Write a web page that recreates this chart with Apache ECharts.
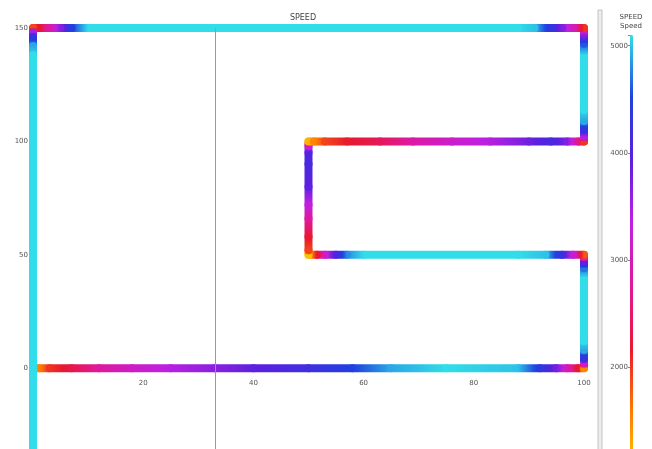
<!DOCTYPE html>
<html>
<head>
<meta charset="utf-8">
<script src="https://cdn.jsdelivr.net/npm/echarts@6/dist/echarts.min.js"></script>
<style>
  html, body { margin: 0; padding: 0; background: #fff; }
  #main { width: 652px; height: 449px; }
</style>
</head>
<body>
<div id="main"></div>
<script>
// track samples, in driving order: x, y and speed at each sample
var trackX = [
  0, 1, 3, 7, 12, 18, 25, 33, 40, 50, 58, 65, 75, 88, 92, 95, 97, 99, 100,
  100, 100, 100, 100, 100, 100, 100, 100, 100,
  98, 96, 93, 88, 60, 57, 55, 53, 51.5, 50,
  50, 50, 50, 50, 50, 50, 50, 50, 50,
  51, 53, 57, 63, 69, 76, 83, 90, 94, 97, 99, 100,
  100, 100, 100, 100, 100, 100, 100, 100,
  98, 96, 94, 91, 88, 10, 7, 5, 3, 1, 0,
  0, 0, 0, 0, 0
]
var trackY = [
  0, 0, 0, 0, 0, 0, 0, 0, 0, 0, 0, 0, 0, 0, 0, 0, 0, 0, 0,
  2, 4, 8, 12, 40, 44, 47, 49, 50,
  50, 50, 50, 50, 50, 50, 50, 50, 50, 50,
  52, 58, 66, 72, 80, 90, 95, 98, 100,
  100, 100, 100, 100, 100, 100, 100, 100, 100, 100, 100, 100,
  102, 105, 109, 114, 138, 143, 147, 150,
  150, 150, 150, 150, 150, 150, 150, 150, 150, 150, 150,
  148, 146, 142, 138, -50
]
var trackSpeed = [
  1100, 1500, 2000, 2300, 2800, 3100, 3400, 3650, 3900, 4200, 4500, 4900, 5100, 5000, 4400, 3800, 3000, 2200, 1500,
  3000, 4200, 4900, 5100, 5100, 4700, 3900, 2800, 1800,
  3200, 4200, 5000, 5100, 5100, 4800, 4100, 3200, 2200, 1100,
  1900, 2200, 2800, 3300, 3900, 4100, 4000, 3200, 1200,
  1500, 1900, 2150, 2400, 2850, 3150, 3400, 3800, 4100, 3700, 2700, 2000,
  3400, 4300, 4900, 5100, 5100, 4600, 3700, 2000,
  3000, 3700, 4300, 5000, 5100, 5100, 4500, 3700, 2900, 2200, 1900,
  3500, 4300, 4900, 5100, 5100
]

var speedMin = 1000
var speedMax = 5100
var speedColors = ['#ffd000', '#ff7a00', '#e81830', '#e0189a', '#c020e0', '#5a20e0', '#2040e0', '#30dde8']
var xTicks = { min: 0, max: 100, interval: 20 }
var yTicks = { min: -50, max: 150, interval: 50 }
var cursorX = 33

function hexRgb(h) {
  return [parseInt(h.substr(1, 2), 16), parseInt(h.substr(3, 2), 16), parseInt(h.substr(5, 2), 16)]
}
var rgbList = speedColors.map(hexRgb)

// same even spread of colours over [min, max] that visualMap uses
function colorAt(v) {
  var t = (v - speedMin) / (speedMax - speedMin)
  t = Math.max(0, Math.min(1, t)) * (rgbList.length - 1)
  var i = Math.min(Math.floor(t), rgbList.length - 2)
  var f = t - i
  var a = rgbList[i], b = rgbList[i + 1]
  return 'rgb(' + Math.round(a[0] + (b[0] - a[0]) * f) + ',' +
    Math.round(a[1] + (b[1] - a[1]) * f) + ',' +
    Math.round(a[2] + (b[2] - a[2]) * f) + ')'
}

var segments = []
for (var i = 0; i < trackX.length - 1; i++) {
  segments.push([trackX[i], trackY[i], trackSpeed[i], trackX[i + 1], trackY[i + 1], trackSpeed[i + 1]])
}

var chart = echarts.init(document.getElementById('main'))

// plot grid: y from -50 to 150 over 453.5px, x axis sits on y = 0
var plotTop = 28
var plotHeight = 453.5
var zeroOffset = -plotHeight * (0 - yTicks.min) / (yTicks.max - yTicks.min)

var option = {
  backgroundColor: '#fff',
  animation: false,
  title: {
    text: 'SPEED',
    left: 298,
    top: 9,
    textAlign: 'center',
    textStyle: { fontSize: 8, fontWeight: 'normal', color: '#444', fontFamily: 'DejaVu Sans' }
  },
  grid: [
    { left: 33, right: 68, top: plotTop, height: plotHeight, outerBoundsMode: 'none', containLabel: false },
    { left: 631, width: 1, top: 35, bottom: -25, outerBoundsMode: 'none', containLabel: false }
  ],
  xAxis: [
    {
      type: 'value', gridIndex: 0,
      min: xTicks.min, max: xTicks.max, interval: xTicks.interval,
      position: 'bottom',
      offset: zeroOffset,
      axisLine: { onZero: false, lineStyle: { color: '#888' } },
      axisTick: { length: 3, lineStyle: { color: '#666' } },
      axisLabel: { showMinLabel: false, fontSize: 7, color: '#555', margin: 12, fontFamily: 'DejaVu Sans' },
      splitLine: { show: false }
    },
    { type: 'value', gridIndex: 1, show: false }
  ],
  yAxis: [
    {
      type: 'value', gridIndex: 0,
      min: yTicks.min, max: yTicks.max, interval: yTicks.interval,
      axisLine: { onZero: false, lineStyle: { color: '#888' } },
      axisTick: { length: 3, lineStyle: { color: '#666' } },
      axisLabel: { fontSize: 7, color: '#555', margin: 5, fontFamily: 'DejaVu Sans' },
      splitLine: { show: false }
    },
    {
      type: 'value', gridIndex: 1,
      min: speedMin, max: speedMax, interval: 1000,
      name: 'SPEED\nSpeed',
      nameLocation: 'end',
      nameGap: 4,
      nameTextStyle: { fontSize: 7, color: '#444', align: 'center', lineHeight: 9, fontFamily: 'DejaVu Sans' },
      axisLine: { show: false },
      axisTick: { length: 3, lineStyle: { color: '#888' } },
      axisLabel: {
        fontSize: 7, color: '#555', margin: 3, fontFamily: 'DejaVu Sans',
        formatter: function (v) { return v % 1000 ? '' : v }
      },
      splitLine: { show: false }
    }
  ],
  visualMap: {
    type: 'continuous',
    min: speedMin,
    max: speedMax,
    dimension: 2,
    seriesIndex: 1,
    calculable: false,
    left: 630,
    top: 35,
    padding: 0,
    itemWidth: 3,
    itemHeight: 439,
    text: null,
    showLabel: false,
    inRange: { color: speedColors }
  },
  graphic: [
    {
      type: 'rect',
      shape: { x: 598, y: 10, width: 4, height: 445 },
      style: { fill: '#ececec', stroke: '#c4c4c4', lineWidth: 1 },
      silent: true
    }
  ],
  series: [
    {
      type: 'line',
      xAxisIndex: 0, yAxisIndex: 0,
      data: [],
      silent: true,
      markLine: {
        symbol: 'none',
        label: { show: false },
        lineStyle: { color: '#9a9a9a', width: 1, type: 'solid' },
        data: [{ xAxis: cursorX }]
      }
    },
    {
      type: 'custom',
      xAxisIndex: 0, yAxisIndex: 0,
      data: segments,
      encode: { x: [0, 3], y: [1, 4] },
      renderItem: function (params, api) {
        var p1 = api.coord([api.value(0), api.value(1)])
        var p2 = api.coord([api.value(3), api.value(4)])
        var s1 = api.value(2), s2 = api.value(5)
        var stops = []
        for (var k = 0; k <= 8; k++) {
          var t = k / 8
          stops.push({ offset: t, color: colorAt(s1 + (s2 - s1) * t) })
        }
        return {
          type: 'line',
          shape: { x1: p1[0], y1: p1[1], x2: p2[0], y2: p2[1] },
          style: {
            stroke: new echarts.graphic.LinearGradient(p1[0], p1[1], p2[0], p2[1], stops, true),
            lineWidth: 8,
            lineCap: 'round'
          }
        }
      }
    }
  ]
}

chart.setOption(option)
</script>
</body>
</html>
